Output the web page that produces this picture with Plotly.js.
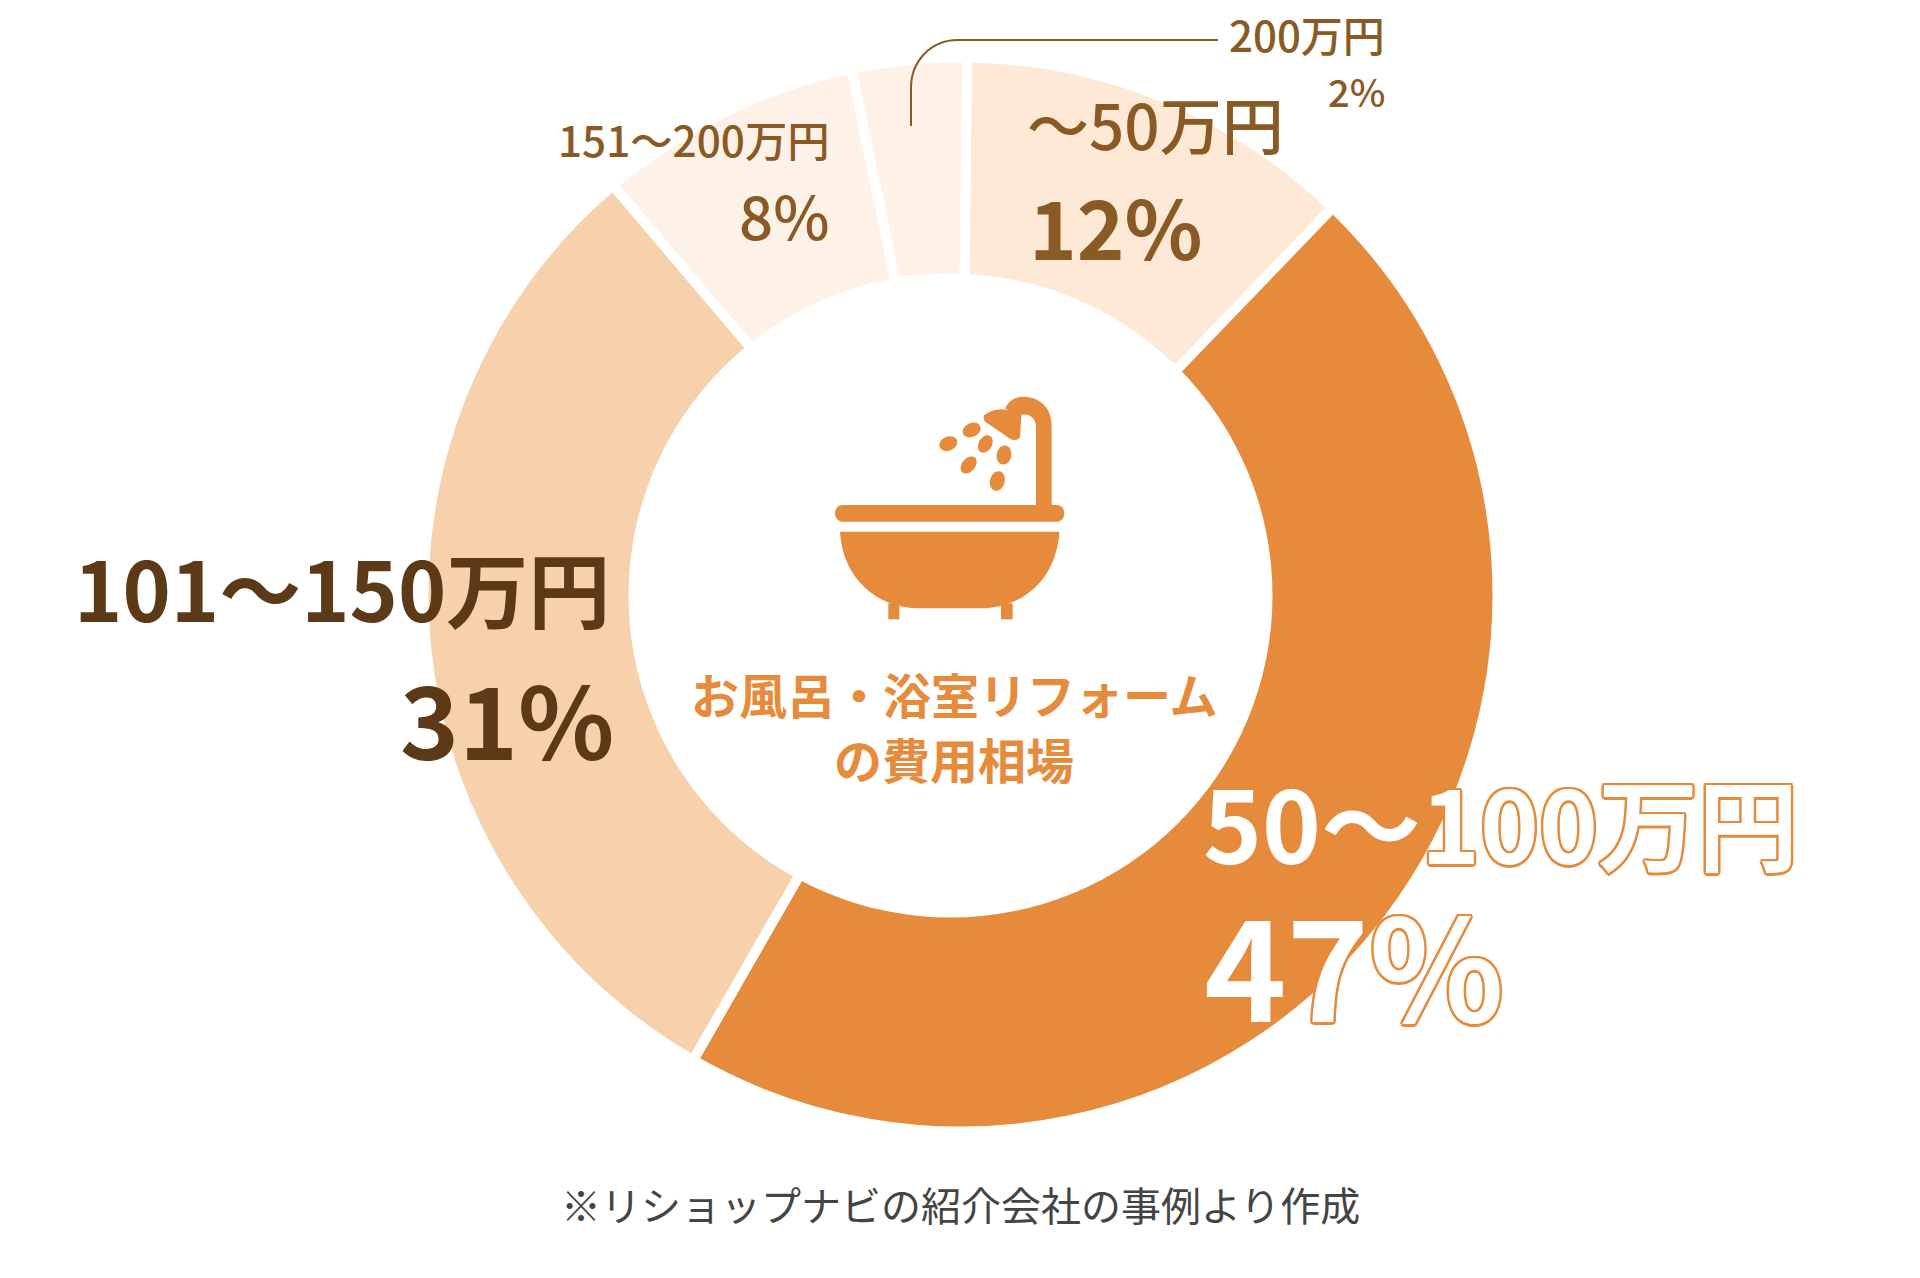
<!DOCTYPE html>
<html>
<head>
<meta charset="utf-8">
<script src="https://cdn.plot.ly/plotly-3.0.1.min.js"></script>
<style>html,body{margin:0;padding:0;background:#fff}#chart{width:1920px;height:1278px}</style>
</head>
<body>
<div id="chart"></div>
<script>
// Data
const categories = ['〜50万円', '50〜100万円', '101〜150万円', '151〜200万円', '200万円'];
const percentLabels = ['12%', '47%', '31%', '8%', '2%'];
// arc shares as actually drawn in the picture
const sliceShares = [12, 46.1, 30.5, 7.95, 3.45];
const sliceColors = ['#FEE8D6', '#E68A3C', '#F7D0AC', '#FDF1E8', '#FDF1E8'];
const centerTitle = ['お風呂・浴室リフォーム', 'の費用相場'];
const footnote = '※リショップナビの紹介会社の事例より作成';

const W = 1920, H = 1278;
const FONT = '"Noto Sans CJK JP","Noto Sans",sans-serif';
const BROWN = '#8A5A25', DARK = '#5C3A17', ORANGE = '#E68A3C';
const cx = 960.5, cy = 594.5, R = 537;
// the hole of the reference is not concentric with the ring
const holeCx = 950.5, holeCy = 595.5, holeR = 322;

const fx = x => x / W, fy = y => 1 - y / H;

// convert a pixel path into paper coordinates for layout.shapes
function px(path) {
  return path.replace(/(-?[\d.]+),(-?[\d.]+)/g, (m, a, b) => fx(+a).toFixed(6) + ',' + fy(+b).toFixed(6));
}
// icon crop coordinates -> page pixels
const ic = (X, Y) => (780 + X / 3).toFixed(2) + ',' + (380 + Y / 3).toFixed(2);
function iconPath(cmds) {
  return px(cmds.map(c => c[0] + ' ' + c.slice(1).map(p => ic(p[0], p[1])).join(' ')).join(' '));
}
function fillShape(path) {
  return {type: 'path', xref: 'paper', yref: 'paper', path, fillcolor: ORANGE, line: {width: 0}};
}
function drop(X, Y, a, b, deg) {
  const t = deg * Math.PI / 180, k = 0.5523;
  const P = (u, v) => [X + u * Math.cos(t) - v * Math.sin(t), Y + u * Math.sin(t) + v * Math.cos(t)];
  return iconPath([
    ['M', P(a, 0)],
    ['C', P(a, k * b), P(k * a, b), P(0, b)],
    ['C', P(-k * a, b), P(-a, k * b), P(-a, 0)],
    ['C', P(-a, -k * b), P(-k * a, -b), P(0, -b)],
    ['C', P(k * a, -b), P(a, -k * b), P(a, 0)],
    ['Z']
  ]);
}
const iconShapes = [
  // rim
  iconPath([['M',[187,375]],['L',[831,375]],['C',[860,375],[860,425],[831,425]],['L',[187,425]],['C',[158,425],[158,375],[187,375]],['Z']]),
  // tub
  iconPath([['M',[180,455]],['L',[838,455]],['C',[830,595],[730,685],[600,685]],['L',[420,685]],['C',[290,685],[188,595],[180,455]],['Z']]),
  // feet
  iconPath([['M',[325,670]],['L',[358,670]],['L',[358,718]],['L',[325,718]],['Z']]),
  iconPath([['M',[663,670]],['L',[698,670]],['L',[698,718]],['L',[663,718]],['Z']]),
  // pipe
  iconPath([['M',[815,380]],['L',[815,135]],['C',[815,80],[775,50],[730,50]],['C',[705,50],[688,62],[675,85]],['L',[716,108]],['C',[740,95],[768,110],[768,140]],['L',[768,380]],['Z']]),
  // shower head
  iconPath([['M',[612,106]],['C',[640,84],[682,80],[724,106]],['L',[720,170]],['C',[715,182],[700,182],[690,176]],['L',[622,130]],['C',[612,124],[609,114],[612,106]],['Z']]),
  // droplets
  drop(505,191,28,21,-25), drop(575,150,28,21,-25), drop(616,192,28,20,-60),
  drop(672,225,29,22,-80), drop(566,255,29,20,-50), drop(652,303,30,22,-75)
].map(fillShape);

const holeShape = {
  type: 'circle', xref: 'paper', yref: 'paper', layer: 'above',
  x0: fx(holeCx - holeR), x1: fx(holeCx + holeR),
  y0: fy(holeCy + holeR), y1: fy(holeCy - holeR),
  fillcolor: '#FFFFFF', line: {width: 0}
};

const leader = {
  type: 'path', xref: 'paper', yref: 'paper',
  path: px('M 911,126 L 911,88 C 911,62 930,40 958,40 L 1218,40'),
  line: {color: BROWN, width: 2}, fillcolor: 'rgba(0,0,0,0)'
};

const OUTLINE = [[2.5,0],[-2.5,0],[0,2.5],[0,-2.5],[1.8,1.8],[-1.8,1.8],[1.8,-1.8],[-1.8,-1.8]]
  .map(o => o[0] + 'px ' + o[1] + 'px 0 ' + ORANGE).join(',');

function note(text, x, y, size, color, anchor, weight, shadow) {
  const font = {family: FONT, size, color, weight: weight || 700};
  if (shadow) font.shadow = shadow;
  return {text, x: fx(x), y: fy(y), xref: 'paper', yref: 'paper', xanchor: anchor, yanchor: 'middle',
          showarrow: false, borderpad: 0, font};
}

const annotations = [
  note(categories[0], 1026, 123, 62, BROWN, 'left', 500),
  note(percentLabels[0], 1028, 225, 81, BROWN, 'left', 700),
  note(categories[4], 1386, 33, 42, BROWN, 'right', 500),
  note(percentLabels[4], 1386, 90, 38, BROWN, 'right', 500),
  note(categories[3], 831, 138, 42.3, BROWN, 'right', 500),
  note(percentLabels[3], 831, 214, 60, BROWN, 'right', 500),
  note(categories[2], 611, 586, 82, DARK, 'right', 700),
  note(percentLabels[2], 615, 716, 100, DARK, 'right', 700),
  note(categories[1], 1202, 820, 100, '#FFFFFF', 'left', 700, OUTLINE),
  note(percentLabels[1], 1203, 961, 140, '#FFFFFF', 'left', 700, OUTLINE),
  note(centerTitle[0], 954, 693, 48, ORANGE, 'center', 700),
  note(centerTitle[1], 954, 758, 48, ORANGE, 'center', 700),
  note(footnote, 960, 1204, 40, '#444444', 'center', 400)
];

const trace = {
  type: 'pie',
  labels: categories,
  values: sliceShares,
  sort: false,
  direction: 'clockwise',
  rotation: 0.7,
  hole: 300 / 537,
  domain: {x: [fx(cx - R), fx(cx + R)], y: [fy(cy + R), fy(cy - R)]},
  marker: {colors: sliceColors, line: {color: '#FFFFFF', width: 10}},
  textinfo: 'none',
  hoverinfo: 'label'
};

Plotly.newPlot('chart', [trace], {
  width: W, height: H,
  margin: {l: 0, r: 0, t: 0, b: 0},
  paper_bgcolor: '#FFFFFF',
  showlegend: false,
  annotations,
  shapes: [holeShape, ...iconShapes, leader]
}, {displayModeBar: false, staticPlot: true});
</script>
</body>
</html>
